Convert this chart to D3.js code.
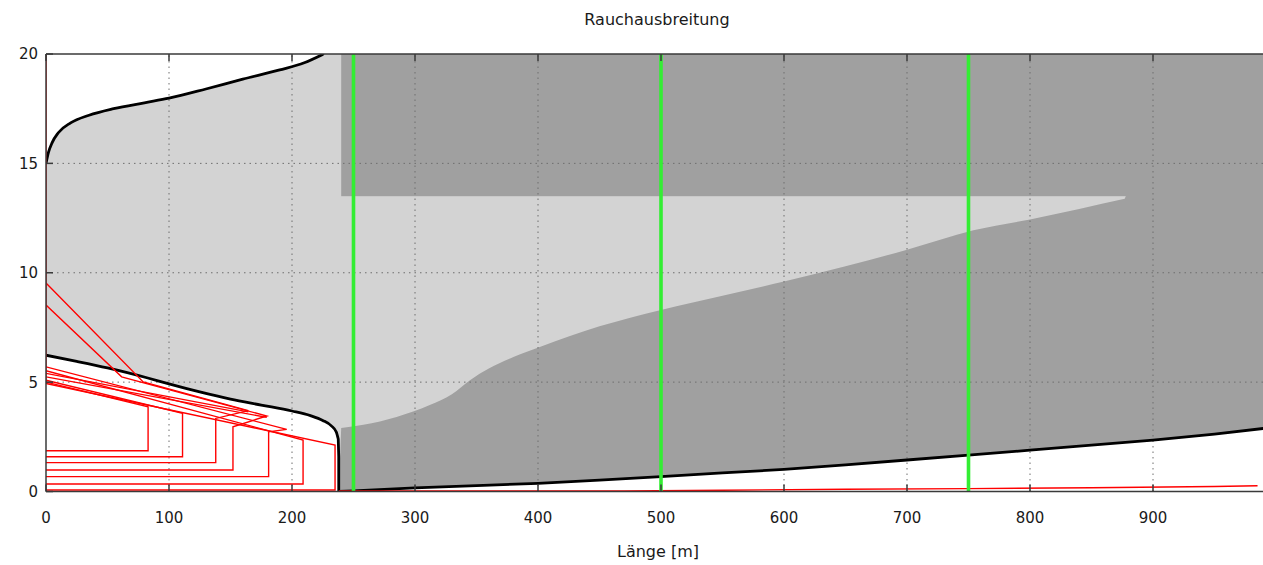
<!DOCTYPE html>
<html>
<head>
<meta charset="utf-8">
<script src="https://cdn.jsdelivr.net/npm/d3@7"></script>
<style>
  body { margin: 0; background: #fff; }
  text { font-family: "DejaVu Sans", sans-serif; fill: #1a1a1a; }
</style>
</head>
<body>
<svg id="chart" width="1263" height="565"></svg>
<script>
// --- data (x = Länge [m], y = Höhe [m]) ---
var xTicks = [0, 100, 200, 300, 400, 500, 600, 700, 800, 900];
var yTicks = [0, 5, 10, 15, 20];
var greenX = [250, 500, 750];

// upper smoke boundary (left part)
var upperCurve = [[0,15],[2,15.5],[5,15.95],[10,16.4],[20,16.85],[35,17.2],[55,17.5],[80,17.77],
  [100,17.98],[130,18.4],[160,18.85],[190,19.27],[210,19.6],[225,19.98]];
// lower smoke boundary (left part), then the portal wall
var lowerLeft = [[0,6.23],[25,5.95],[50,5.65],[82,5.2],[100,4.92],[125,4.55],[150,4.22],[175,3.95],
  [200,3.68],[215,3.47],[225,3.25],[232,3.0],[236,2.72],[237.6,2.4]];
var portalX = 238;
// lower boundary right of the portal
var lowerRight = [[238,0],[250,0.03],[300,0.17],[350,0.27],[400,0.37],[450,0.52],[500,0.68],
  [550,0.85],[600,1.01],[650,1.22],[700,1.44],[750,1.66],[800,1.89],[850,2.12],[900,2.35],
  [950,2.62],[1000,2.95]];
// top edge of the dark zone below
var darkTop = [[240,2.9],[258,3.05],[285,3.41],[312,3.95],[330,4.45],[345,5.1],[360,5.62],
  [380,6.15],[402,6.62],[450,7.55],[500,8.3],[550,8.95],[600,9.6],[650,10.3],[700,11.05],
  [754,11.94],[800,12.44],[840,12.92],[877,13.38]];
var darkRoof = [240, 1000, 13.5, 20];

// red trajectories
var redPaths = [
  [[0,20],[0,4.94]],
  [[0,5.00],[83,3.87],[83,1.86],[0,1.86]],
  [[0,5.09],[111,3.57],[111,1.59],[0,1.59]],
  [[0,9.53],[79,5.01],[164.5,3.70],[138,3.34],[138,1.32],[0,1.32]],
  [[0,8.52],[61.5,5.24],[179.5,3.45],[152,2.96],[152,0.98],[0,0.98]],
  [[0,5.70],[195.7,2.84],[181,2.73],[181,0.68],[0,0.68]],
  [[0,5.52],[209,2.35],[209,0.34],[0,0.34]],
  [[0,4.94],[235,2.12],[235,0.07],[0,0.07]],
  [[0,5.40],[164.5,3.64]],
  [[0,5.24],[179.5,3.39]],
  [[238,0.02],[400,0.02],[470,0.03],[550,0.06],[650,0.1],[750,0.13],[850,0.17],[950,0.23],[985,0.26]]
];

var svg = d3.select("#chart");
var x = d3.scaleLinear().domain([0, 1000]).range([46, 1276]);
var y = d3.scaleLinear().domain([0, 20]).range([491.5, 54]);

svg.append("defs").append("clipPath").attr("id", "plot")
  .append("rect")
    .attr("x", x(0)).attr("y", y(20))
    .attr("width", x(1000) - x(0)).attr("height", y(0) - y(20));

var g = svg.append("g").attr("clip-path", "url(#plot)");

// light grey background of the plot
g.append("rect")
    .attr("x", x(0)).attr("y", y(20))
    .attr("width", x(1000) - x(0)).attr("height", y(0) - y(20))
    .attr("fill", "#d3d3d3");

var line = d3.line()
    .x(function(d) { return x(d[0]); })
    .y(function(d) { return y(d[1]); });
var smoothLine = d3.line().curve(d3.curveMonotoneX)
    .x(function(d) { return x(d[0]); })
    .y(function(d) { return y(d[1]); });

var upperD = smoothLine(upperCurve) + "L" + x(227) + "," + y(20.2);
var lowerLeftD = smoothLine(lowerLeft) + "L" + x(portalX) + "," + y(1.6) + "L" + x(portalX) + "," + y(0);

// white above the upper curve
g.append("path")
    .attr("fill", "#fff")
    .attr("d", upperD + "L" + x(0) + "," + y(20.2) + "Z");

// white below the lower curves
g.append("path")
    .attr("fill", "#fff")
    .attr("d", lowerLeftD + line(lowerRight).replace("M", "L") +
      "L" + x(1000) + "," + y(0) + "L" + x(0) + "," + y(0) + "Z");

// dark zones
g.append("rect")
    .attr("x", x(darkRoof[0])).attr("y", y(darkRoof[3]))
    .attr("width", x(darkRoof[1]) - x(darkRoof[0]))
    .attr("height", y(darkRoof[2]) - y(darkRoof[3]))
    .attr("fill", "#a0a0a0");

var darkRest = [[878, 13.52], [1000, 13.52]].concat(lowerRight.slice().reverse());
g.append("path")
    .attr("fill", "#a0a0a0")
    .attr("d", smoothLine(darkTop) + line(darkRest).replace("M", "L") + "Z");

// dotted grid
g.selectAll(".gx").data(xTicks.slice(1)).enter().append("line")
    .attr("x1", x).attr("x2", x)
    .attr("y1", y(0)).attr("y2", y(20))
    .attr("stroke", "#6e6e6e").attr("stroke-width", 1)
    .attr("stroke-dasharray", "1.5,4");
g.selectAll(".gy").data([5, 10, 15]).enter().append("line")
    .attr("x1", x(0)).attr("x2", x(1000))
    .attr("y1", y).attr("y2", y)
    .attr("stroke", "#6e6e6e").attr("stroke-width", 1)
    .attr("stroke-dasharray", "1.5,4");

// black boundaries
[upperD, lowerLeftD, line(lowerRight)].forEach(function(d) {
  g.append("path")
      .attr("d", d)
      .attr("fill", "none")
      .attr("stroke", "#000")
      .attr("stroke-width", 2.8)
      .attr("stroke-linejoin", "round");
});

// red trajectories
g.selectAll(".red").data(redPaths).enter().append("path")
    .attr("d", line)
    .attr("fill", "none")
    .attr("stroke", "#f00")
    .attr("stroke-width", 1.4);

// green markers
g.selectAll(".green").data(greenX).enter().append("line")
    .attr("x1", x).attr("x2", x)
    .attr("y1", y(0)).attr("y2", y(20))
    .attr("stroke", "#33ee33").attr("stroke-width", 3.6);

// border and ticks
var frame = svg.append("g").attr("stroke", "#3a3a3a").attr("stroke-width", 1.5);
frame.append("line").attr("x1", x(0)).attr("x2", 1263).attr("y1", y(20)).attr("y2", y(20));
frame.append("line").attr("x1", x(0)).attr("x2", 1263).attr("y1", y(0)).attr("y2", y(0));
frame.append("line").attr("x1", x(0)).attr("x2", x(0)).attr("y1", y(0)).attr("y2", y(20));
xTicks.forEach(function(t) {
  frame.append("line").attr("x1", x(t)).attr("x2", x(t)).attr("y1", y(0)).attr("y2", y(0) - 7);
  frame.append("line").attr("x1", x(t)).attr("x2", x(t)).attr("y1", y(20)).attr("y2", y(20) + 7);
});
yTicks.forEach(function(t) {
  frame.append("line").attr("x1", x(0)).attr("x2", x(0) + 7).attr("y1", y(t)).attr("y2", y(t));
});

svg.selectAll(".xl").data(xTicks).enter().append("text")
    .attr("x", x).attr("y", 523)
    .attr("text-anchor", "middle")
    .style("font-size", "15px")
    .text(function(d) { return d; });
svg.selectAll(".yl").data(yTicks).enter().append("text")
    .attr("x", 38).attr("y", function(d) { return y(d); })
    .attr("dy", "0.36em")
    .attr("text-anchor", "end")
    .style("font-size", "15px")
    .text(function(d) { return d; });

svg.append("text")
    .attr("x", 657).attr("y", 25)
    .attr("text-anchor", "middle")
    .style("font-size", "16px")
    .text("Rauchausbreitung");
svg.append("text")
    .attr("x", 658).attr("y", 557)
    .attr("text-anchor", "middle")
    .style("font-size", "16px")
    .text("Länge [m]");
</script>
</body>
</html>
